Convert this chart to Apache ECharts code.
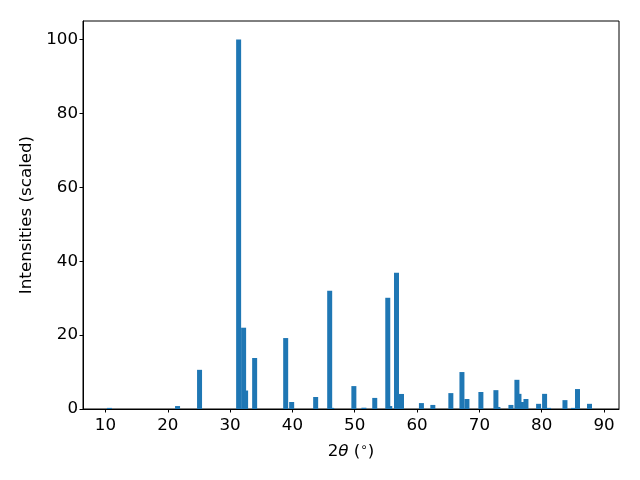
<!DOCTYPE html>
<html>
<head>
<meta charset="utf-8">
<script src="https://cdn.jsdelivr.net/npm/echarts@6/dist/echarts.min.js"></script>
<style>
html,body{margin:0;padding:0;background:#fff;}
#chart{width:640px;height:480px;}
</style>
</head>
<body>
<div id="chart"></div>
<script>
var twoTheta = [10.64, 21.57, 25.10, 31.37, 32.17, 32.49, 33.94, 38.92, 39.88, 43.73,
  45.98, 46.30, 49.86, 51.47, 53.21, 55.30, 55.62, 56.70, 57.50, 60.70,
  62.53, 65.42, 67.20, 68.00, 70.24, 72.65, 72.97, 75.06, 76.02, 76.35,
  76.75, 77.47, 79.50, 80.46, 81.10, 83.73, 85.10, 85.74, 87.67];
var intensities = [0.3, 0.8, 10.6, 100, 22.0, 5.0, 13.8, 19.2, 1.9, 3.25,
  32.0, 0.3, 6.2, 0.35, 3.0, 30.1, 0.8, 36.9, 4.07, 1.6,
  1.1, 4.3, 10.0, 2.7, 4.6, 5.1, 0.55, 1.1, 7.9, 4.1,
  1.9, 2.7, 1.4, 4.1, 0.3, 2.4, 0.3, 5.4, 1.4];
var xTicks = [10, 20, 30, 40, 50, 60, 70, 80, 90];
var yTicks = [0, 20, 40, 60, 80, 100];

var data = twoTheta.map(function (x, i) { return [x, intensities[i]]; });
var font = 'DejaVu Sans';
var fs = 16.7;
var chart = echarts.init(document.getElementById('chart'), null, {renderer: 'canvas'});
chart.setOption({
  animation: false,
  backgroundColor: '#fff',
  grid: {left: 83, right: 21, top: 21, bottom: 71, show: true, borderColor: '#000', borderWidth: 1, backgroundColor: 'transparent'},
  xAxis: {
    type: 'value', min: 6.4, max: 92.4,
    splitLine: {show: false},
    axisLine: {show: true, onZero: false, lineStyle: {color: '#000', width: 1}},
    axisTick: {show: true, length: 3.5, customValues: xTicks, lineStyle: {color: '#000'}},
    axisLabel: {customValues: xTicks, margin: 8, color: '#000', fontSize: fs, fontFamily: font},
    name: '{n|2}{i|θ}{n| (}{s|∘}{n|)}',
    nameLocation: 'middle', nameGap: 33,
    nameTextStyle: {
      rich: {
        n: {fontSize: fs, fontFamily: font, color: '#000'},
        i: {fontSize: fs, fontFamily: font, fontStyle: 'italic', color: '#000'},
        s: {fontSize: 12, fontFamily: font, color: '#000', verticalAlign: 'top', padding: [0, 0, 7, 0]}
      }
    }
  },
  yAxis: {
    type: 'value', min: 0, max: 105,
    splitLine: {show: false},
    axisLine: {show: true, lineStyle: {color: '#000', width: 1}},
    axisTick: {show: true, length: 3.5, customValues: yTicks, lineStyle: {color: '#000'}},
    axisLabel: {customValues: yTicks, margin: 5, color: '#000', fontSize: fs, fontFamily: font},
    name: 'Intensities (scaled)',
    nameLocation: 'middle', nameGap: 48,
    nameTextStyle: {fontSize: fs, fontFamily: font, color: '#000'}
  },
  series: [{
    type: 'bar',
    data: data,
    barWidth: 5,
    itemStyle: {color: '#1f77b4'}
  }]
});
</script>
</body>
</html>
